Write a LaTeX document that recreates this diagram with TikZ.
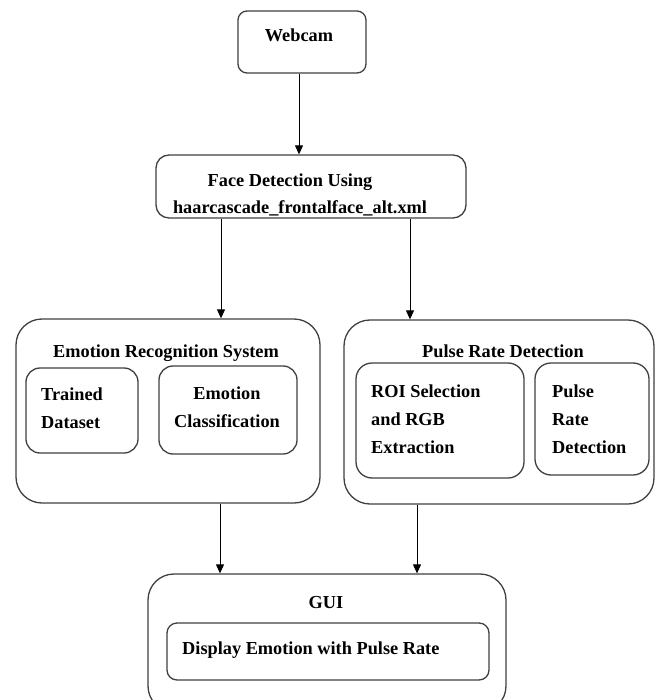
\documentclass[tikz,border=0pt]{standalone}
\usepackage{fontspec}
\setmainfont{Liberation Serif}
\usetikzlibrary{arrows.meta}
\begin{document}
\begin{tikzpicture}[x=1pt,y=-1pt,
  box/.style={draw=black!75, line width=1.3pt, inner sep=0pt},
  txt/.style={font=\fontsize{18.3}{28}\selectfont\bfseries, inner sep=0pt, anchor=base},
  txtl/.style={txt, anchor=base west},
  arr/.style={-{Triangle[length=9pt,width=8pt]}, line width=1pt, black}]
\clip (0,0) rectangle (660,700);
\fill[white] (0,0) rectangle (660,700);
% boxes
\node[box, rounded corners=9pt, minimum width=128pt, minimum height=62pt] (webcam) at (302,42) {};
\node[box, rounded corners=13pt, minimum width=310pt, minimum height=63pt] (face) at (311,186.5) {};
\node[box, rounded corners=26pt, minimum width=304pt, minimum height=184pt] (emo) at (168,411) {};
\node[box, rounded corners=14pt, minimum width=112pt, minimum height=85pt] (trained) at (82,410.5) {};
\node[box, rounded corners=14pt, minimum width=138pt, minimum height=88pt] (ecls) at (228,410) {};
\node[box, rounded corners=26pt, minimum width=310pt, minimum height=184pt] (pulse) at (499,412) {};
\node[box, rounded corners=16pt, minimum width=168pt, minimum height=115pt] (roi) at (440,420.5) {};
\node[box, rounded corners=16pt, minimum width=114pt, minimum height=112pt] (prd) at (592,419) {};
\node[box, rounded corners=26pt, minimum width=358pt, minimum height=138pt] (gui) at (327,643) {};
\node[box, rounded corners=10pt, minimum width=322pt, minimum height=57pt] (disp) at (328,651.5) {};
% texts
\node[txt] (twebcam) at (299,42) {Webcam};
\node[txt] (tface1) at (290,187) {Face Detection Using};
\node[txt] (tface2) at (300,214) {haarcascade\_frontalface\_alt.xml};
\node[txt] (temo) at (166,357) {Emotion Recognition System};
\node[txtl] (ttr1) at (41,400.5) {Trained};
\node[txtl] (ttr2) at (41,428) {Dataset};
\node[txt] (tec1) at (227,399) {Emotion};
\node[txt] (tec2) at (227,427) {Classification};
\node[txt] (tpulse) at (503,357) {Pulse Rate Detection};
\node[txtl] (troi1) at (371,397) {ROI Selection};
\node[txtl] (troi2) at (371,425) {and RGB};
\node[txtl] (troi3) at (371,453) {Extraction};
\node[txtl] (tprd1) at (552,397) {Pulse};
\node[txtl] (tprd2) at (552,425) {Rate};
\node[txtl] (tprd3) at (552,453) {Detection};
\node[txt] (tgui) at (326,608) {GUI};
\node[txtl] (tdisp) at (182,654) {Display Emotion with Pulse Rate};
% arrow columns
\coordinate (c0) at (299,0);
\coordinate (c1) at (221,0);
\coordinate (c2) at (410,0);
\coordinate (c3) at (220,0);
\coordinate (c4) at (417,0);
\draw[arr] (webcam.south -| c0) -- (face.north -| c0);
\draw[arr] (face.south -| c1) -- (emo.north -| c1);
\draw[arr] (face.south -| c2) -- (pulse.north -| c2);
\draw[arr] (emo.south -| c3) -- (gui.north -| c3);
\draw[arr] (pulse.south -| c4) -- (gui.north -| c4);
\end{tikzpicture}
\end{document}
